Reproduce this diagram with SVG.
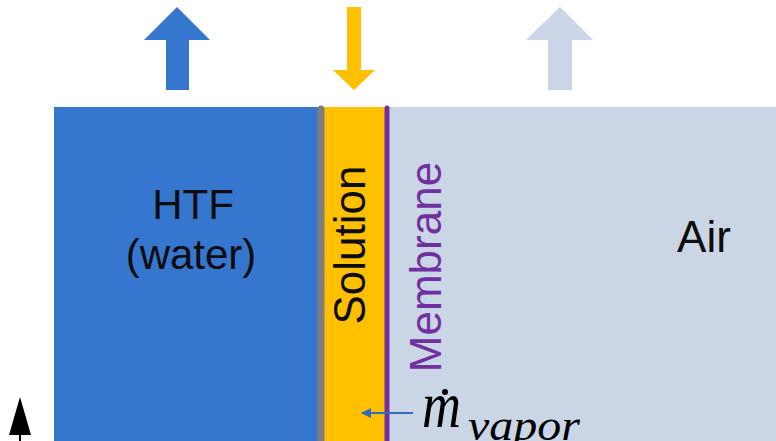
<svg xmlns="http://www.w3.org/2000/svg" width="776" height="441" viewBox="0 0 776 441">
<style>
.lbl{font-family:"Liberation Sans",Arial,sans-serif;fill:#0d0d0d}
.math{font-family:"Liberation Serif","Times New Roman",serif;font-style:italic;fill:#000}
</style>
<defs>
<marker id="ah" markerWidth="10" markerHeight="10" refX="9" refY="5" orient="auto" markerUnits="userSpaceOnUse"><path d="M0,0 L10,5 L0,10 Z" fill="#2f6eba"/></marker>
</defs>
<rect width="776" height="441" fill="#fff"/>
<g id="htf">
<rect x="54" y="107" width="267" height="334" fill="#3576cf"/>
<text class="lbl" x="193" y="219" font-size="42" text-anchor="middle">HTF</text>
<text class="lbl" x="191" y="269" font-size="42" text-anchor="middle">(water)</text>
</g>
<g id="air">
<rect x="387" y="107" width="389" height="334" fill="#cad6e6"/>
<text class="lbl" x="704" y="252" font-size="44" text-anchor="middle">Air</text>
</g>
<g id="solution">
<rect x="321" y="107" width="66" height="334" fill="#ffc000"/>
<text class="lbl" x="0" y="0" font-size="44" text-anchor="middle" transform="translate(365,245) rotate(-90)">Solution</text>
</g>
<g id="wall">
<line x1="321" y1="109" x2="321" y2="445" stroke="#7f7f7f" stroke-width="7" stroke-linecap="round"/>
</g>
<g id="membrane">
<line x1="387" y1="108" x2="387" y2="445" stroke="#7030a0" stroke-width="5" stroke-linecap="round"/>
<text x="0" y="0" font-size="44" text-anchor="middle" fill="#7030a0" font-family="'Liberation Sans',Arial,sans-serif" transform="translate(441,267) rotate(-90)">Membrane</text>
</g>
<g id="connectors">
<polygon points="166,90 189,90 189,40 210,40 177,7 144,40 166,40" fill="#3576cf"/>
<polygon points="347,7 361,7 361,70 375,70 354,90 333,70 347,70" fill="#ffc000"/>
<polygon points="548,90 572,90 572,40 593,40 560,7 526,40 548,40" fill="#cad6e6"/>
<line x1="20" y1="441" x2="20" y2="420" stroke="#000" stroke-width="2"/>
<polygon points="20,397 31,435 9,435" fill="#000"/>
<line x1="413" y1="413" x2="362" y2="413" stroke="#2f6eba" stroke-width="2" marker-end="url(#ah)"/>
</g>
<g id="mvapor">
<text class="math" x="0" y="0" font-size="54" transform="translate(422,427) scale(1,1.2)">m</text>
<circle cx="445" cy="392" r="3" fill="#000"/>
<text class="math" x="468" y="440" font-size="44" textLength="112" lengthAdjust="spacingAndGlyphs">vapor</text>
</g>
</svg>
